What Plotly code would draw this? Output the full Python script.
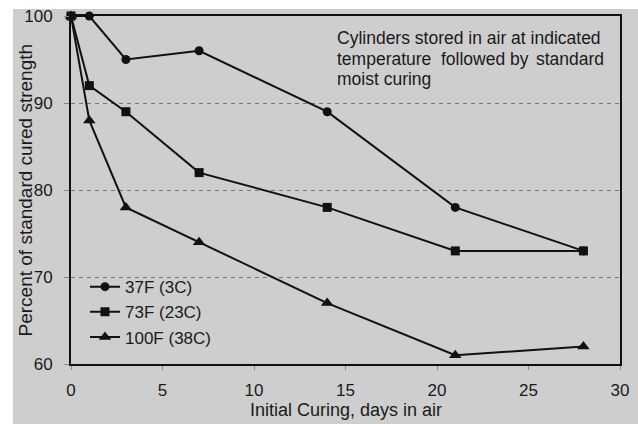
import plotly.graph_objects as go

days = [0, 1, 3, 7, 14, 21, 28]
s37 = [100, 100, 95, 96, 89, 78, 73]
s73 = [100, 92, 89, 82, 78, 73, 73]
s100 = [100, 88, 78, 74, 67, 61, 62]
series_names = ["37F (3C)", "73F (23C)", "100F (38C)"]
symbols = ["circle", "square", "triangle-up"]
x_ticks = [0, 5, 10, 15, 20, 25, 30]
y_ticks = [60, 70, 80, 90, 100]

FONT = "Liberation Sans, Arial, Helvetica, sans-serif"
INK = "#111111"
TXT = "#1a1a1a"
BG = "#cecece"

fig = go.Figure()
sizes = [9, 9, 11]
for name, vals, sym, sz in zip(series_names, [s37, s73, s100], symbols, sizes):
    fig.add_trace(go.Scatter(
        x=days, y=vals, name=name, mode="lines+markers",
        line=dict(color=INK, width=2),
        marker=dict(symbol=sym, size=sz, color=INK),
        cliponaxis=False,
    ))

# gray scanned-page background
fig.add_shape(type="rect", xref="paper", yref="paper",
              x0=-0.1056, x1=1.06, y0=-0.19, y1=1.0201,
              fillcolor=BG, line=dict(width=0), layer="below")

def px_to_x(px):
    return (px - 71) / 18.3

def px_to_y(py):
    return 100 - (py - 16) / 8.7

ann_font = dict(family=FONT, size=17.5, color=TXT)
fig.add_annotation(x=px_to_x(335), y=px_to_y(38), text="Cylinders stored in air at indicated",
                   xanchor="left", yanchor="middle", showarrow=False, font=ann_font)
fig.add_annotation(x=px_to_x(335), y=px_to_y(59), text="temperature",
                   xanchor="left", yanchor="middle", showarrow=False, font=ann_font)
fig.add_annotation(x=px_to_x(439), y=px_to_y(59), text="followed by",
                   xanchor="left", yanchor="middle", showarrow=False, font=ann_font)
fig.add_annotation(x=px_to_x(606), y=px_to_y(59), text="standard",
                   xanchor="right", yanchor="middle", showarrow=False, font=ann_font)
fig.add_annotation(x=px_to_x(335), y=px_to_y(79), text="moist curing",
                   xanchor="left", yanchor="middle", showarrow=False, font=ann_font)

# axis titles
fig.add_annotation(xref="paper", yref="paper", x=0.5, y=-0.1322,
                   text="Initial Curing, days in air", xanchor="center", yanchor="middle",
                   showarrow=False, font=dict(family=FONT, size=18, color=TXT))
fig.add_annotation(xref="paper", yref="paper", x=-0.0829, y=0.5,
                   text="Percent of standard cured strength", textangle=-90,
                   xanchor="center", yanchor="middle",
                   showarrow=False, font=dict(family=FONT, size=19, color=TXT))

fig.update_layout(
    width=638, height=424,
    margin=dict(l=71, r=18, t=16, b=60),
    paper_bgcolor="white",
    plot_bgcolor="rgba(0,0,0,0)",
    font=dict(family=FONT, size=17, color=TXT),
    showlegend=True,
    legend=dict(x=0.0255, y=0.2726, xanchor="left", yanchor="top",
                bgcolor="rgba(0,0,0,0)", font=dict(family=FONT, size=17, color=TXT),
                tracegroupgap=0, itemwidth=30),
    xaxis=dict(range=[0, 30], tickvals=x_ticks, showgrid=False, zeroline=False,
               showline=True, linecolor=INK, linewidth=2, mirror=True,
               ticks="outside", ticklen=4, tickcolor="#888888",
               ticklabelstandoff=6, automargin=False),
    yaxis=dict(range=[60, 100], tickvals=y_ticks, showgrid=True, gridcolor="#777777",
               griddash="4px,4px", gridwidth=1, zeroline=False,
               showline=True, linecolor=INK, linewidth=2, mirror=True,
               ticks="outside", ticklen=5, tickcolor="#888888",
               ticklabelstandoff=8, automargin=False),
)

fig.write_html("out.html", config={"displayModeBar": False},
               post_script="document.body.style.margin='0';")
